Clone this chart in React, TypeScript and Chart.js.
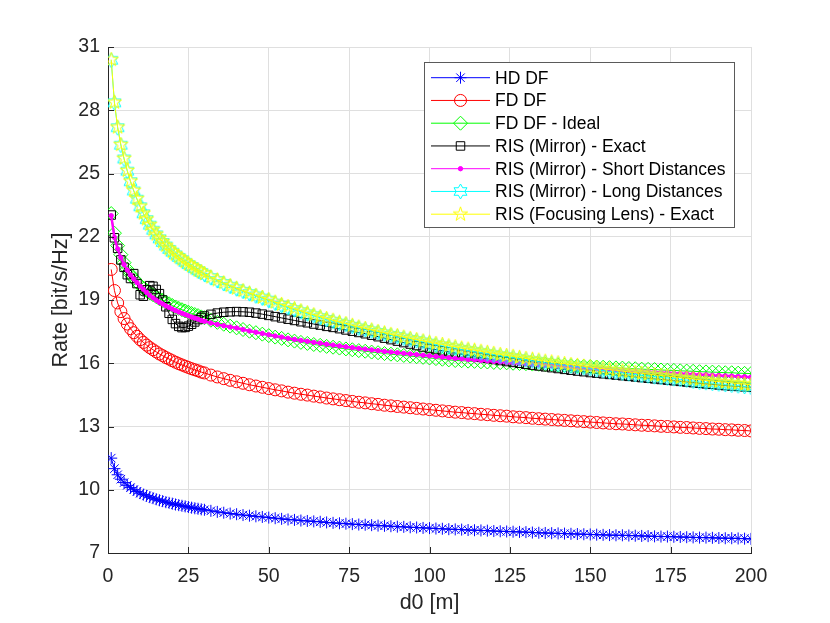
import { useEffect, useRef } from "react";
import { Chart, registerables, type Plugin } from "chart.js";
import { drawPoint } from "chart.js/helpers";

Chart.register(...registerables);

// distance d0 [m]
const d0 = [
  1, 2, 3, 4, 5, 6, 7, 8, 9, 10, 11, 12, 13, 14, 15, 16, 17, 18, 19, 20, 21, 22, 23, 24, 25, 26, 27, 28, 29, 30,
  32, 34, 36, 38, 40, 42, 44, 46, 48, 50, 52, 54, 56, 58, 60,
  62, 64, 66, 68, 70, 72, 74, 76, 78, 80, 82, 84, 86, 88, 90,
  92, 94, 96, 98, 100, 102, 104, 106, 108, 110, 112, 114, 116, 118, 120,
  122, 124, 126, 128, 130, 132, 134, 136, 138, 140, 142, 144, 146, 148, 150,
  152, 154, 156, 158, 160, 162, 164, 166, 168, 170, 172, 174, 176, 178, 180,
  182, 184, 186, 188, 190, 192, 194, 196, 198, 200,
];

const hdDf = [
  11.5, 11.0, 10.71, 10.5, 10.34, 10.21, 10.1, 10.0, 9.92, 9.84, 9.77, 9.71, 9.65, 9.6, 9.55, 9.5, 9.46, 9.41, 9.38, 9.34, 9.3, 9.27, 9.24, 9.21, 9.18, 9.15, 9.12, 9.1, 9.07, 9.05,
  9.0, 8.95, 8.91, 8.87, 8.84, 8.8, 8.77, 8.74, 8.71, 8.68, 8.65, 8.62, 8.59, 8.57, 8.54,
  8.52, 8.5, 8.48, 8.45, 8.43, 8.41, 8.39, 8.37, 8.35, 8.34, 8.32, 8.3, 8.29, 8.27, 8.25,
  8.24, 8.22, 8.21, 8.19, 8.18, 8.16, 8.15, 8.13, 8.12, 8.11, 8.09, 8.08, 8.07, 8.06, 8.04,
  8.03, 8.02, 8.01, 8.0, 7.99, 7.97, 7.96, 7.95, 7.94, 7.93, 7.92, 7.91, 7.9, 7.89, 7.88,
  7.87, 7.86, 7.85, 7.84, 7.84, 7.83, 7.82, 7.81, 7.8, 7.79, 7.78, 7.78, 7.77, 7.76, 7.75,
  7.74, 7.73, 7.73, 7.72, 7.71, 7.7, 7.7, 7.69, 7.68, 7.67,
];

const fdDf = [
  20.45, 19.45, 18.86, 18.45, 18.12, 17.86, 17.64, 17.45, 17.28, 17.12, 16.99, 16.86, 16.74, 16.64, 16.54, 16.44, 16.36, 16.27, 16.2, 16.12, 16.05, 15.98, 15.92, 15.86, 15.8, 15.74, 15.69, 15.64, 15.58, 15.54,
  15.44, 15.35, 15.27, 15.19, 15.12, 15.05, 14.98, 14.92, 14.86, 14.8, 14.74, 14.69, 14.63, 14.58, 14.53,
  14.49, 14.44, 14.4, 14.35, 14.31, 14.27, 14.23, 14.19, 14.15, 14.12, 14.08, 14.05, 14.01, 13.98, 13.95,
  13.92, 13.89, 13.86, 13.83, 13.8, 13.77, 13.74, 13.71, 13.68, 13.66, 13.63, 13.61, 13.58, 13.56, 13.53,
  13.51, 13.49, 13.46, 13.44, 13.42, 13.39, 13.37, 13.35, 13.33, 13.31, 13.29, 13.27, 13.25, 13.23, 13.21,
  13.19, 13.17, 13.15, 13.13, 13.12, 13.1, 13.08, 13.06, 13.05, 13.03, 13.01, 13.0, 12.98, 12.96, 12.95,
  12.93, 12.91, 12.9, 12.88, 12.87, 12.85, 12.84, 12.82, 12.81, 12.79,
];

const fdDfIdeal = [
  23.1, 22.17, 21.58, 21.15, 20.77, 20.46, 20.22, 20.02, 19.85, 19.69, 19.57, 19.45, 19.34, 19.25, 19.16, 19.06, 18.98, 18.89, 18.82, 18.74, 18.67, 18.6, 18.54, 18.48, 18.42, 18.36, 18.31, 18.26, 18.2, 18.16,
  18.04, 17.94, 17.85, 17.76, 17.68, 17.6, 17.52, 17.45, 17.38, 17.31, 17.24, 17.18, 17.11, 17.05, 16.99,
  16.94, 16.89, 16.85, 16.8, 16.76, 16.72, 16.68, 16.64, 16.6, 16.57, 16.53, 16.5, 16.46, 16.43, 16.4,
  16.37, 16.34, 16.31, 16.28, 16.25, 16.22, 16.19, 16.16, 16.13, 16.12, 16.1, 16.09, 16.07, 16.06, 16.04,
  16.03, 16.02, 16.0, 15.99, 15.98, 15.96, 15.95, 15.94, 15.93, 15.91, 15.9, 15.88, 15.87, 15.85, 15.84,
  15.82, 15.81, 15.79, 15.78, 15.77, 15.75, 15.74, 15.72, 15.71, 15.7, 15.68, 15.67, 15.66, 15.64, 15.63,
  15.62, 15.6, 15.59, 15.58, 15.57, 15.55, 15.55, 15.53, 15.52, 15.51,
];

const mirrorExact = [
  23.03, 21.95, 21.45, 20.9, 20.55, 20.2, 20.02, 20.25, 19.78, 19.25, 19.18, 19.48, 19.68, 19.65, 19.5, 19.3, 19.0, 18.68, 18.37, 18.08, 17.88, 17.75, 17.69, 17.7, 17.76, 17.85, 17.96, 18.07, 18.17, 18.24,
  18.32, 18.38, 18.42, 18.44, 18.45, 18.44, 18.42, 18.38, 18.33, 18.27, 18.21, 18.15, 18.09, 18.03, 17.97,
  17.92, 17.86, 17.81, 17.75, 17.7, 17.64, 17.58, 17.52, 17.46, 17.4, 17.33, 17.26, 17.19, 17.12, 17.05,
  16.98, 16.91, 16.84, 16.77, 16.7, 16.65, 16.59, 16.54, 16.48, 16.43, 16.38, 16.33, 16.28, 16.23, 16.18,
  16.13, 16.08, 16.04, 16.0, 15.95, 15.91, 15.87, 15.83, 15.79, 15.75, 15.71, 15.67, 15.63, 15.6, 15.56,
  15.53, 15.5, 15.47, 15.44, 15.41, 15.38, 15.35, 15.32, 15.29, 15.26, 15.23, 15.2, 15.17, 15.14, 15.11,
  15.08, 15.05, 15.02, 15.0, 14.97, 14.94, 14.92, 14.9, 14.88, 14.86,
];

const mirrorShort = [
  23.0, 21.97, 21.42, 21.01, 20.68, 20.42, 20.19, 20.0, 19.83, 19.66, 19.51, 19.36, 19.22, 19.1, 18.99, 18.89, 18.81, 18.72, 18.65, 18.57, 18.5, 18.43, 18.37, 18.31, 18.25, 18.19, 18.14, 18.09, 18.03, 17.99,
  17.91, 17.84, 17.78, 17.72, 17.67, 17.6, 17.53, 17.47, 17.41, 17.35, 17.29, 17.24, 17.18, 17.13, 17.08,
  17.04, 16.99, 16.95, 16.9, 16.86, 16.82, 16.78, 16.74, 16.7, 16.67, 16.63, 16.6, 16.56, 16.53, 16.5,
  16.47, 16.44, 16.41, 16.38, 16.35, 16.32, 16.29, 16.26, 16.23, 16.21, 16.18, 16.16, 16.13, 16.11, 16.08,
  16.06, 16.04, 16.01, 15.99, 15.97, 15.94, 15.92, 15.9, 15.88, 15.86, 15.84, 15.82, 15.8, 15.78, 15.76,
  15.74, 15.72, 15.7, 15.68, 15.67, 15.65, 15.63, 15.61, 15.6, 15.58, 15.56, 15.55, 15.53, 15.51, 15.5,
  15.48, 15.46, 15.45, 15.43, 15.42, 15.4, 15.39, 15.37, 15.36, 15.34,
];

const mirrorLong = [
  30.37, 28.35, 27.17, 26.34, 25.69, 25.11, 24.61, 24.17, 23.78, 23.42, 23.09, 22.81, 22.55, 22.31, 22.09, 21.9, 21.73, 21.56, 21.4, 21.27, 21.14, 21.02, 20.91, 20.79, 20.68, 20.59, 20.49, 20.39, 20.31, 20.22,
  20.06, 19.92, 19.78, 19.65, 19.53, 19.41, 19.3, 19.19, 19.09, 18.99, 18.85, 18.74, 18.64, 18.54, 18.44,
  18.34, 18.25, 18.16, 18.07, 17.99, 17.9, 17.83, 17.75, 17.67, 17.6, 17.53, 17.46, 17.39, 17.32, 17.26,
  17.19, 17.13, 17.07, 17.01, 16.95, 16.87, 16.82, 16.76, 16.71, 16.65, 16.6, 16.55, 16.5, 16.45, 16.4,
  16.35, 16.3, 16.26, 16.21, 16.16, 16.12, 16.08, 16.03, 15.99, 15.95, 15.91, 15.87, 15.83, 15.79, 15.75,
  15.69, 15.65, 15.61, 15.58, 15.54, 15.5, 15.47, 15.43, 15.4, 15.36, 15.33, 15.3, 15.27, 15.23, 15.2,
  15.15, 15.11, 15.08, 15.05, 15.02, 14.99, 14.96, 14.93, 14.9, 14.87,
];

const lensExact = [
  30.4, 28.38, 27.2, 26.37, 25.72, 25.14, 24.64, 24.2, 23.81, 23.45, 23.12, 22.84, 22.58, 22.34, 22.12, 21.93, 21.76, 21.59, 21.43, 21.3, 21.17, 21.05, 20.94, 20.82, 20.71, 20.62, 20.52, 20.42, 20.34, 20.25,
  20.09, 19.95, 19.81, 19.68, 19.56, 19.44, 19.33, 19.22, 19.12, 19.02, 18.9, 18.79, 18.69, 18.59, 18.49,
  18.39, 18.3, 18.21, 18.12, 18.04, 17.95, 17.88, 17.8, 17.72, 17.65, 17.58, 17.51, 17.44, 17.37, 17.31,
  17.24, 17.18, 17.12, 17.06, 17.0, 16.94, 16.89, 16.83, 16.78, 16.72, 16.67, 16.62, 16.57, 16.52, 16.47,
  16.42, 16.37, 16.33, 16.28, 16.23, 16.19, 16.15, 16.1, 16.06, 16.02, 15.98, 15.94, 15.9, 15.86, 15.82,
  15.78, 15.74, 15.7, 15.67, 15.63, 15.59, 15.56, 15.52, 15.49, 15.45, 15.42, 15.39, 15.36, 15.32, 15.29,
  15.26, 15.22, 15.19, 15.16, 15.13, 15.1, 15.07, 15.04, 15.01, 14.98,
];

const yTicks = [7, 31, 3]; // min, max, step
const xTicks = [0, 200, 25];

const FONT = "'Liberation Sans', Arial, Helvetica, sans-serif";
const AXIS_COLOR = "#262626";

// outlined star marker drawn to a small canvas (pentagram / hexagram)
function starMarker(points: number, innerRatio: number, color: string, outer = 7.5) {
  const size = 19;
  const c = document.createElement("canvas");
  c.width = size;
  c.height = size;
  const ctx = c.getContext("2d")!;
  ctx.translate(size / 2, size / 2);
  ctx.beginPath();
  for (let k = 0; k < points * 2; k++) {
    const r = k % 2 === 0 ? outer : outer * innerRatio;
    const a = -Math.PI / 2 + (k * Math.PI) / points;
    if (k === 0) ctx.moveTo(r * Math.cos(a), r * Math.sin(a));
    else ctx.lineTo(r * Math.cos(a), r * Math.sin(a));
  }
  ctx.closePath();
  ctx.strokeStyle = color;
  ctx.lineWidth = 1;
  ctx.stroke();
  return c;
}

const legendBox: Plugin<"line"> = {
  id: "legendBox",
  afterDraw(chart) {
    const { ctx, chartArea, scales } = chart;
    ctx.save();

    // inward tick marks, MATLAB style
    ctx.strokeStyle = AXIS_COLOR;
    ctx.lineWidth = 1;
    ctx.beginPath();
    for (const t of scales.x.ticks) {
      const px = Math.round(scales.x.getPixelForValue(t.value)) + 0.5;
      ctx.moveTo(px, chartArea.bottom);
      ctx.lineTo(px, chartArea.bottom - 6);
    }
    for (const t of scales.y.ticks) {
      const py = Math.round(scales.y.getPixelForValue(t.value)) + 0.5;
      ctx.moveTo(chartArea.left, py);
      ctx.lineTo(chartArea.left + 6, py);
    }
    ctx.stroke();

    // legend
    const left = 424.5;
    const top = 62.5;
    const w = 310;
    const h = 165;
    const rowH = 22.75;
    ctx.fillStyle = "#ffffff";
    ctx.fillRect(left, top, w, h);
    ctx.strokeStyle = "#5a5a5a";
    ctx.strokeRect(left, top, w, h);

    ctx.font = `17.5px ${FONT}`;
    ctx.textBaseline = "middle";
    chart.data.datasets.forEach((ds: any, i) => {
      const y = 77.7 + i * rowH;
      ctx.strokeStyle = ds.borderColor;
      ctx.lineWidth = 1;
      ctx.beginPath();
      ctx.moveTo(431, y);
      ctx.lineTo(490, y);
      ctx.stroke();
      ctx.fillStyle = ds.pointBackgroundColor;
      ctx.strokeStyle = ds.pointBorderColor;
      drawPoint(ctx, { pointStyle: ds.pointStyle, radius: ds.pointRadius, borderWidth: 1, rotation: 0 }, 460.5, y);
      ctx.fillStyle = "#000000";
      ctx.fillText(ds.label, 495, y + 1);
    });
    ctx.restore();
  },
};

export default function App() {
  const canvasRef = useRef<HTMLCanvasElement>(null);
  const chartRef = useRef<Chart | null>(null);

  useEffect(() => {
    if (!canvasRef.current) return;
    if (chartRef.current) chartRef.current.destroy();

    const series = [
      { label: "HD DF", values: hdDf, color: "#0000ff", marker: "star" as any, radius: 6, fill: false, width: 1 },
      { label: "FD DF", values: fdDf, color: "#ff0000", marker: "circle" as any, radius: 6, fill: false, width: 1 },
      { label: "FD DF - Ideal", values: fdDfIdeal, color: "#00ff00", marker: "rectRot" as any, radius: 7, fill: false, width: 1 },
      { label: "RIS (Mirror) - Exact", values: mirrorExact, color: "#000000", marker: "rect" as any, radius: 6, fill: false, width: 1 },
      { label: "RIS (Mirror) - Short Distances", values: mirrorShort, color: "#ff00ff", marker: "circle" as any, radius: 2.2, fill: true, width: 2.5 },
      { label: "RIS (Mirror) - Long Distances", values: mirrorLong, color: "#00ffff", marker: starMarker(6, 0.577, "#00ffff") as any, radius: 7, fill: false, width: 1 },
      { label: "RIS (Focusing Lens) - Exact", values: lensExact, color: "#ffff00", marker: starMarker(5, 0.382, "#ffff00") as any, radius: 7, fill: false, width: 1 },
    ];

    chartRef.current = new Chart(canvasRef.current, {
      type: "line",
      data: {
        datasets: series.map((s, i) => ({
          label: s.label,
          data: d0.map((x, j) => ({ x, y: s.values[j] })),
          borderColor: s.color,
          borderWidth: s.width,
          pointStyle: s.marker,
          pointRadius: s.radius,
          pointBorderColor: s.color,
          pointBackgroundColor: s.fill ? s.color : "rgba(0,0,0,0)",
          pointBorderWidth: 1,
          tension: 0,
          fill: false,
          order: series.length - 1 - i,
        })),
      },
      options: {
        animation: false,
        responsive: false,
        events: [],
        layout: { padding: { left: 40, top: 47, right: 79, bottom: 0 } },
        plugins: {
          legend: { display: false },
          tooltip: { enabled: false },
        },
        scales: {
          x: {
            type: "linear",
            min: xTicks[0],
            max: xTicks[1],
            ticks: {
              stepSize: xTicks[2],
              color: AXIS_COLOR,
              font: { family: FONT, size: 19.5 },
              padding: 12,
              maxRotation: 0,
            },
            grid: { color: "#dfdfdf", drawTicks: false },
            border: { color: AXIS_COLOR },
            title: {
              display: true,
              text: "d0 [m]",
              color: AXIS_COLOR,
              font: { family: FONT, size: 21.5 },
              padding: { top: 0, bottom: 7 },
            },
            afterFit: (scale) => {
              scale.height = 70;
            },
          },
          y: {
            min: yTicks[0],
            max: yTicks[1],
            ticks: {
              stepSize: yTicks[2],
              color: AXIS_COLOR,
              font: { family: FONT, size: 19.5 },
              padding: 8,
            },
            grid: { color: "#dfdfdf", drawTicks: false },
            border: { color: AXIS_COLOR },
            title: {
              display: true,
              text: "Rate [bit/s/Hz]",
              color: AXIS_COLOR,
              font: { family: FONT, size: 21.5 },
              padding: { top: 8, bottom: 0 },
            },
            afterFit: (scale) => {
              scale.width = 68;
            },
          },
        },
      },
      plugins: [legendBox],
    });

    return () => chartRef.current?.destroy();
  }, []);

  return (
    <div style={{ position: "fixed", left: 0, top: 0, width: 830, height: 623, background: "#ffffff" }}>
      <canvas ref={canvasRef} width={830} height={623} role="img" aria-label="Rate versus d0 for DF relaying and RIS schemes" />
    </div>
  );
}
